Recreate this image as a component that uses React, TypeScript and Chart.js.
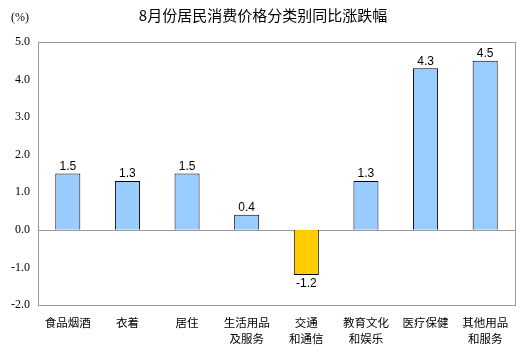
import React, { useEffect, useRef } from "react";
import { Chart, registerables } from "chart.js";

Chart.register(...registerables);

const titleText = "8月份居民消费价格分类别同比涨跌幅";
const unitText = "(%)";
const categories: string[][] = [
  ["食品烟酒"],
  ["衣着"],
  ["居住"],
  ["生活用品", "及服务"],
  ["交通", "和通信"],
  ["教育文化", "和娱乐"],
  ["医疗保健"],
  ["其他用品", "和服务"],
];
const values: number[] = [1.5, 1.3, 1.5, 0.4, -1.2, 1.3, 4.3, 4.5];
const yMin = -2;
const yMax = 5;
const yStep = 1;

const positiveColor = "#99CCFF";
const negativeColor = "#FFCC00";

export default function App() {
  const ref = useRef<HTMLCanvasElement | null>(null);

  useEffect(() => {
    document.body.style.margin = "0";
    const canvas = ref.current;
    if (!canvas) return;

    const decor = {
      id: "decor",
      afterDatasetsDraw(chart: any) {
        const { ctx, chartArea, scales } = chart;
        ctx.save();
        // frame
        ctx.strokeStyle = "#999999";
        ctx.lineWidth = 1;
        ctx.strokeRect(
          Math.round(chartArea.left) + 0.5,
          Math.round(chartArea.top) + 0.5,
          Math.round(chartArea.right - chartArea.left),
          Math.round(chartArea.bottom - chartArea.top)
        );
        // data labels
        const meta = chart.getDatasetMeta(0);
        ctx.fillStyle = "#000";
        ctx.font = '12px Arial, "Liberation Sans", sans-serif';
        ctx.textAlign = "center";
        meta.data.forEach((bar: any, i: number) => {
          const v = values[i];
          const label = v.toFixed(1);
          if (v >= 0) {
            ctx.textBaseline = "bottom";
            ctx.fillText(label, bar.x, bar.y - 1);
          } else {
            ctx.textBaseline = "top";
            ctx.fillText(label, bar.x, bar.y + 3);
          }
        });
        // title
        ctx.font = '15px "Noto Sans CJK SC", sans-serif';
        ctx.textBaseline = "middle";
        ctx.textAlign = "center";
        ctx.fillText(titleText, 263, 15);
        // unit
        ctx.font = '12px "Liberation Serif", serif';
        ctx.textAlign = "left";
        ctx.fillText(unitText, 11, 18);
        ctx.restore();
      },
      beforeDatasetsDraw(chart: any) {
        const { ctx, chartArea, scales } = chart;
        const y0 = Math.round(scales.y.getPixelForValue(0)) + 0.5;
        ctx.save();
        ctx.strokeStyle = "#999999";
        ctx.lineWidth = 1;
        ctx.beginPath();
        ctx.moveTo(chartArea.left, y0);
        ctx.lineTo(chartArea.right, y0);
        ctx.stroke();
        ctx.restore();
      },
    };

    const chart = new Chart(canvas, {
      type: "bar",
      data: {
        labels: categories,
        datasets: [
          {
            data: values,
            backgroundColor: values.map((v) => (v >= 0 ? positiveColor : negativeColor)),
            borderColor: "#000000",
            borderWidth: 1,
            barPercentage: 0.42,
            categoryPercentage: 1,
          },
        ],
      },
      options: {
        responsive: false,
        animation: false,
        layout: { padding: { top: 42, right: 10, left: 0, bottom: 0 } },
        plugins: {
          legend: { display: false },
          title: { display: false },
          tooltip: { enabled: false },
        },
        scales: {
          x: {
            grid: { display: false, drawTicks: false },
            border: { display: false },
            ticks: {
              color: "#000",
              padding: 9,
              maxRotation: 0,
              autoSkip: false,
              font: { family: '"Noto Sans CJK SC", sans-serif', size: 11.5, lineHeight: 1.45 },
            },
            afterFit: (scale: any) => {
              scale.height = 50;
            },
          },
          y: {
            min: yMin,
            max: yMax,
            grid: { display: false, drawTicks: false },
            border: { display: false },
            ticks: {
              stepSize: yStep,
              color: "#000",
              padding: 8,
              font: { family: '"Liberation Serif", serif', size: 12 },
              callback: (v: any) => Number(v).toFixed(1),
            },
            afterFit: (scale: any) => {
              scale.width = 38;
            },
          },
        },
      },
      plugins: [decor],
    });

    return () => chart.destroy();
  }, []);

  return <canvas ref={ref} width={525} height={355} style={{ display: "block" }} />;
}
